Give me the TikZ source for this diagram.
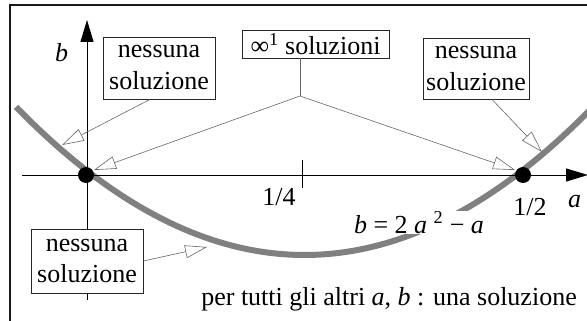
\documentclass[tikz,border=0pt]{standalone}
\usepackage{fontspec}
\setmainfont{Liberation Serif}
\usetikzlibrary{arrows.meta,calc}
\begin{document}
\begin{tikzpicture}[x=1pt,y=-1pt,
  every node/.style={font=\fontsize{26}{32}\selectfont},
  lbox/.style={draw=black!85, line width=0.8pt, fill=white, align=center, inner sep=0pt},
  callout/.style={draw=black!60, line width=0.6pt, -{Triangle[open,length=22pt,width=13pt]}},
  axis/.style={draw=black, line width=1pt},
  axisarrow/.style={axis, -{Triangle[length=22pt,width=13pt]}},
  curve/.style={draw=black!50, line width=6pt},
  dot/.style={circle, fill=black, inner sep=0pt, minimum size=16pt},
  frameline/.style={draw=black!90, line width=2.2pt}
]
\useasboundingbox (0,0) rectangle (587,321);
% frame
\draw[frameline] (10,323) -- (10,5) -- (590,5);
% curve
\draw[curve] plot[domain=16:592, samples=80] (\x, {255-0.178*((\x-304.5)/10)^2});
% axes
\coordinate (aL) at (22,175);
\coordinate (aR) at (588,175);
\coordinate (bB) at (87,300);
\coordinate (bT) at (87,20);
\draw[axisarrow] (aL) -- (aR);
\draw[axisarrow] (bB) -- (bT);
\coordinate (tk1) at (302,160);
\coordinate (tk2) at (302,188);
\draw[axis] (tk1) -- (tk2);
% dots
\node[dot] (d0) at (86,175) {};
\node[dot] (d1) at (523,175) {};
% labels
\node[anchor=base west, inner sep=0pt] (lb) at (55,62) {\textit{b}};
\node[anchor=base west, inner sep=0pt] (la) at (568,207) {\textit{a}};
\node[anchor=base, inner sep=0pt] (l14) at (279,205) {1/4};
\node[anchor=base, inner sep=0pt] (l12) at (530,215) {1/2};
\node[anchor=base, inner sep=1pt, fill=white] (eq) at (419,233) {\textit{b} = 2 \textit{a} \textsuperscript{2} − \textit{a}};
\node[anchor=base east, inner sep=0pt] (all) at (577,305) {per tutti gli altri \textit{a}, \textit{b} : una soluzione};
% callout targets
\coordinate (t1) at (62,145);
\coordinate (t2) at (94,170);
\coordinate (t3) at (515,170);
\coordinate (t4) at (542,152);
\coordinate (t5) at (207,247);
\coordinate (j) at (300,96);
% boxes
\node[lbox, minimum width=112pt, minimum height=62pt] (tl) at (159,68) {nessuna\\soluzione};
\node[lbox, minimum width=106pt, minimum height=61pt] (tr) at (476,68.5) {nessuna\\soluzione};
\node[lbox, minimum width=112pt, minimum height=64pt] (bl) at (87,261) {nessuna\\soluzione};
\node[lbox, minimum width=147pt, minimum height=28pt] (inf) at (315.5,44) {∞\textsuperscript{1} soluzioni};
% callouts
\draw[callout] ($(tl.south west)!0.42!(tl.south east)$) -- (t1);
\draw[callout] ($(tr.south west)!0.65!(tr.south east)$) -- (t4);
\draw[callout] (bl.east) -- (t5);
\draw[draw=black!60, line width=0.6pt] (inf.south -| j) -- (j);
\draw[callout] (j) -- (t2);
\draw[callout] (j) -- (t3);
\end{tikzpicture}
\end{document}
